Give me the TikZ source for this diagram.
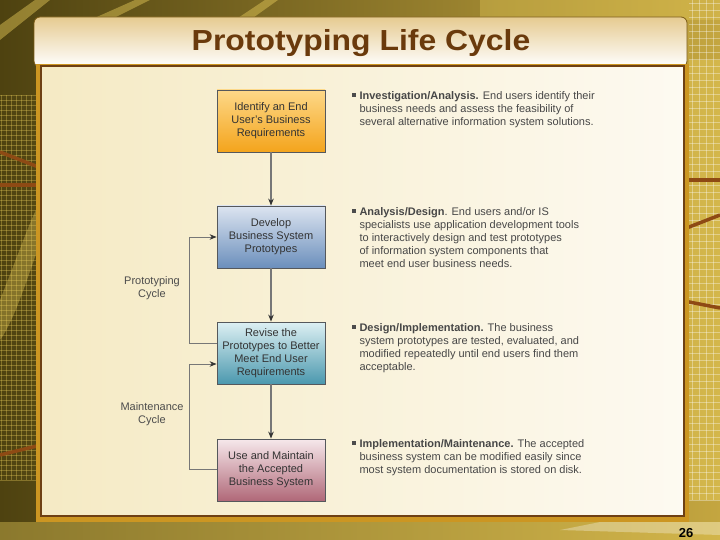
\documentclass[tikz,border=0pt]{standalone}
\usepackage{fontspec}
\setmainfont{Liberation Sans}
\usetikzlibrary{arrows.meta}
\definecolor{bgdark}{HTML}{4E4210}
\definecolor{bgmid}{HTML}{9A8028}
\definecolor{bgright}{HTML}{C4A640}
\definecolor{bglight}{HTML}{E8CC5A}
\definecolor{stripe}{HTML}{8E4A14}
\definecolor{titlebrown}{HTML}{6A3A0C}
\definecolor{framegold}{HTML}{CC9622}
\definecolor{panelline}{HTML}{6E4014}
\definecolor{creamL}{HTML}{F5EAC4}
\definecolor{creamR}{HTML}{FDFAF1}
\definecolor{boxline}{HTML}{55585C}
\definecolor{conn}{HTML}{777777}
\definecolor{txt}{HTML}{333333}
\definecolor{orT}{HTML}{FDD888}
\definecolor{orB}{HTML}{F4A41C}
\definecolor{blT}{HTML}{DCE4F0}
\definecolor{blB}{HTML}{6B8FBC}
\definecolor{teT}{HTML}{DDF0F3}
\definecolor{teB}{HTML}{4B98AE}
\definecolor{pkT}{HTML}{F6E8EB}
\definecolor{pkB}{HTML}{B06878}
\tikzset{
  procbox/.style={draw=boxline, line width=0.8pt, minimum width=108pt, minimum height=62pt,
    align=center, text=txt, font=\fontsize{11}{13}\selectfont},
  flow/.style={draw=conn, line width=1.1pt, -{Stealth[length=7pt,width=5.5pt,color=black!80]}},
  loopline/.style={draw=conn, line width=0.9pt},
  cyclelabel/.style={align=center, text=black!70, font=\fontsize{11}{13}\selectfont},
  desc/.style={anchor=north west, align=left, text=black!72, font=\fontsize{11}{13}\selectfont},
  bulletsq/.style={fill=black!70, minimum size=4pt, inner sep=0pt},
  gridline/.style={line width=0.5pt},
  stripeline/.style={stripe, line width=3.5pt}
}
\begin{document}
\begin{tikzpicture}[x=1pt,y=-1pt]
\useasboundingbox (0,0) rectangle (720,540);
% background
\shade[left color=bgdark, right color=bgright] (0,0) rectangle (720,540);
\fill[bglight, opacity=0.45] (0,25) -- (35,0) -- (50,0) -- (0,40) -- cycle;
\fill[bglight, opacity=0.45] (90,20) -- (135,0) -- (150,0) -- (110,20) -- cycle;
\fill[bglight, opacity=0.45] (235,20) -- (265,0) -- (278,0) -- (250,20) -- cycle;
\fill[bglight, opacity=0.35] (480,0) rectangle (720,20);
\fill[bglight, opacity=0.35] (0,300) .. controls (20,250) and (30,220) .. (41,200) -- (41,240) .. controls (30,270) and (15,320) .. (0,340) -- cycle;
\fill[bglight, opacity=0.45] (689,60) rectangle (720,500);
\fill[bglight, opacity=0.4] (0,522) -- (720,522) -- (720,540) -- (0,540) -- cycle;
\fill[white, opacity=0.3] (560,530) -- (600,522) -- (720,522) -- (720,535) -- cycle;
\foreach \gx in {1,6,...,36} {\draw[gridline, bglight, opacity=0.35] (\gx,95) -- (\gx,480);}
\foreach \gy in {95,100,...,480} {\draw[gridline, bglight, opacity=0.35] (0,\gy) -- (36,\gy);}
\foreach \gx in {692,699,...,720} {\draw[gridline, white, opacity=0.35] (\gx,0) -- (\gx,500);}
\foreach \gy in {3,10,...,500} {\draw[gridline, white, opacity=0.35] (689,\gy) -- (720,\gy);}
\draw[stripeline] (0,152) -- (41,168);
\draw[stripeline] (0,185) -- (41,185);
\draw[stripeline] (0,455) -- (41,445);
\draw[stripeline] (684,180) -- (720,180);
\draw[stripeline] (684,229) -- (720,215);
\draw[stripeline] (684,301) -- (720,308);
% title bar
\shade[top color=framegold!50!white, bottom color=white, draw=framegold!60!black, line width=0.8pt, rounded corners=6pt]
  (34,17) rectangle (687,67);
\node[text=titlebrown, font=\bfseries\fontsize{29}{32}\selectfont, xscale=1.1] (title) at (361,43) {Prototyping Life Cycle};
% panel
\fill[framegold] (36,64) rectangle (689,522);
\shade[left color=creamL, right color=creamR, draw=panelline, line width=1.6pt] (41,66) rectangle (684,516);
% boxes
\node[procbox, top color=orT, bottom color=orB] (b1) at (271,121) {Identify an End\\User's Business\\Requirements};
\node[procbox, top color=blT, bottom color=blB] (b2) at (271,237) {Develop\\Business System\\Prototypes};
\node[procbox, top color=teT, bottom color=teB] (b3) at (271,353) {Revise the\\Prototypes to Better\\Meet End User\\Requirements};
\node[procbox, top color=pkT, bottom color=pkB] (b4) at (271,470) {Use and Maintain\\the Accepted\\Business System};
% vertical connectors
\draw[flow] (b1) -- (b2);
\draw[flow] (b2) -- (b3);
\draw[flow] (b3) -- (b4);
% cycles
\coordinate (p1) at (189,343);
\coordinate (p2) at (189,237);
\coordinate (m1) at (189,469);
\coordinate (m2) at (189,364);
\draw[loopline] (b3.west |- p1) -- (p1) -- (p2);
\draw[flow, line width=0.9pt] (p2) -- (b2.west |- p2);
\draw[loopline] (b4.west |- m1) -- (m1) -- (m2);
\draw[flow, line width=0.9pt] (m2) -- (b3.west |- m2);
\node[cyclelabel] (pc) at (152,288) {Prototyping\\Cycle};
\node[cyclelabel] (mc) at (152,414) {Maintenance\\Cycle};
% descriptions
\node[bulletsq] (s1) at (354,95) {};
\node[desc] (d1) at (356,88) {\textbf{Investigation/Analysis.} End users identify their\\business needs and assess the feasibility of\\several alternative information system solutions.};
\node[bulletsq] (s2) at (354,211) {};
\node[desc] (d2) at (356,204) {\textbf{Analysis/Design}. End users and/or IS\\specialists use application development tools\\to interactively design and test prototypes\\of information system components that\\meet end user business needs.};
\node[bulletsq] (s3) at (354,327) {};
\node[desc] (d3) at (356,320) {\textbf{Design/Implementation.} The business\\system prototypes are tested, evaluated, and\\modified repeatedly until end users find them\\acceptable.};
\node[bulletsq] (s4) at (354,443) {};
\node[desc] (d4) at (356,436) {\textbf{Implementation/Maintenance.} The accepted\\business system can be modified easily since\\most system documentation is stored on disk.};
% page number
\node[font=\bfseries\fontsize{13}{15}\selectfont, text=black] (pg) at (686,533) {26};
\end{tikzpicture}
\end{document}
